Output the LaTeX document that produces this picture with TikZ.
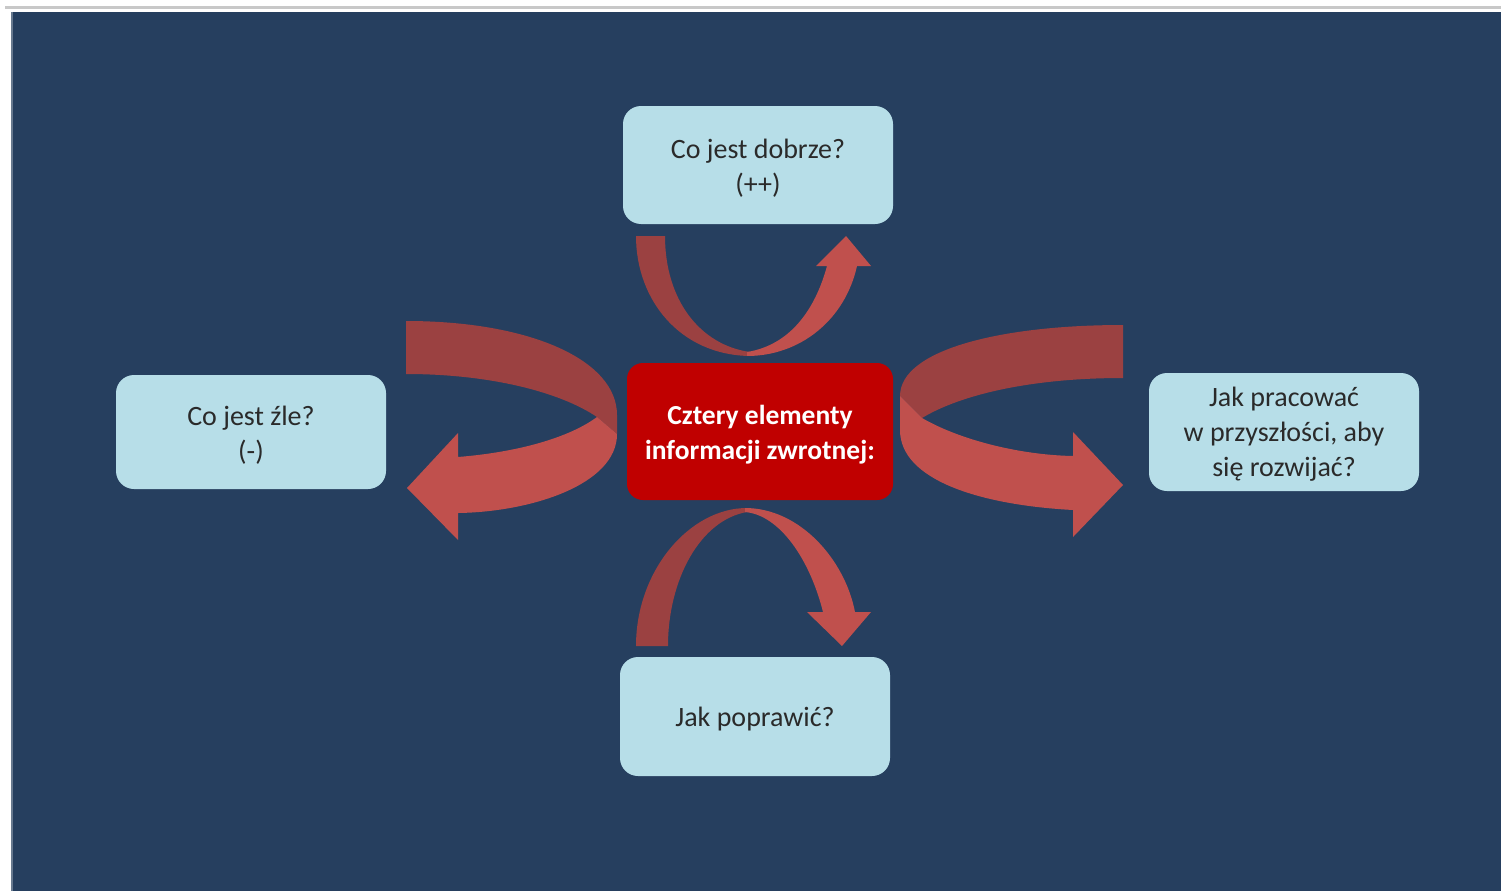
\documentclass[tikz,border=0pt]{standalone}
\usepackage{fontspec}
\setmainfont{Carlito}
\definecolor{navy}{HTML}{263F5F}
\definecolor{boxblue}{HTML}{B7DEE8}
\definecolor{centerred}{HTML}{C00000}
\definecolor{ribdark}{HTML}{9B4141}
\definecolor{riblight}{HTML}{C0504D}
\definecolor{boxtext}{HTML}{2A2A2A}
\definecolor{topline}{HTML}{C8C8C8}
\tikzset{
  infobox/.style={draw=none, fill=boxblue, rounded corners=18pt, minimum width=270pt, inner sep=0pt},
  infotext/.style={align=center, text=boxtext, font=\fontsize{28}{35}\selectfont, inner sep=0pt},
  centerbox/.style={draw=none, fill=centerred, rounded corners=16pt, minimum width=266pt,
    minimum height=137pt, inner sep=0pt},
  centertext/.style={align=center, text=white, font=\fontsize{27.5}{35}\selectfont\bfseries, inner sep=0pt},
  darkrib/.style={fill=ribdark, draw=none},
  lightrib/.style={fill=riblight, draw=none}
}
\begin{document}
\begin{tikzpicture}[x=1pt,y=-1pt]
\useasboundingbox (0,0) rectangle (1501,891);
\fill[white] (0,0) rectangle (1501,891);
\fill[topline] (5,6.5) rectangle (1501,9.5);
\fill[navy] (12,12) rectangle (1501,891);
\fill[navy!70!white] (11,12) rectangle (13,891);

% boxes
\node[infobox, minimum height=118pt] (top) at (758,165) {};
\node[infobox, minimum height=114pt] (left) at (251,432) {};
\node[infobox, minimum height=118pt] (right) at (1284,432) {};
\node[infobox, minimum height=119pt] (bottom) at (755,716.5) {};
\node[centerbox] (center) at (760,431.5) {};

% texts
\node[infotext] (toptext) at ([yshift=-3pt]top.center) {Co jest dobrze?\\(++)};
\node[infotext] (lefttext) at ([yshift=-3pt]left.center) {Co jest źle?\\(-)};
\node[infotext] (righttext) at ([yshift=-2pt]right.center) {Jak pracować\\w przyszłości, aby\\się rozwijać?};
\node[infotext] (bottomtext) at ([yshift=-3pt]bottom.center) {Jak poprawić?};
\node[centertext] (centertxt) at ([yshift=-3pt]center.center) {Cztery elementy\\informacji zwrotnej:};

% top ribbon arrow
\fill[darkrib] (636,236) .. controls (636,300) and (680,355) .. (750,356)
  -- (750,352) .. controls (700,345) and (665,300) .. (665,236) -- cycle;
\fill[lightrib] (747,356) .. controls (800,356) and (845,320) .. (857,266)
  -- (871,266) -- (846,236) -- (816,266) -- (827,266)
  .. controls (815,310) and (790,345) .. (747,352) -- cycle;

% bottom ribbon arrow
\fill[darkrib] (636,646) .. controls (636,570) and (690,508) .. (747,508)
  -- (747,512) .. controls (700,520) and (668,580) .. (668,646) -- cycle;
\fill[lightrib] (745,508) .. controls (800,508) and (845,560) .. (855,612)
  -- (871,612) -- (842,646) -- (807,612) -- (823,612)
  .. controls (810,560) and (780,515) .. (745,512) -- cycle;

% left ribbon arrow
\fill[darkrib] (406,321) .. controls (530,321) and (617,360) .. (617,415)
  -- (617,434) -- (597,417) .. controls (560,392) and (490,374) .. (406,374) -- cycle;
\fill[lightrib] (597,417) -- (617,434) .. controls (617,485) and (530,512) .. (458,513)
  -- (458,540) -- (407,488) -- (458,433) -- (458,457)
  .. controls (520,452) and (570,437) .. (597,417) -- cycle;

% right ribbon arrow
\fill[darkrib] (1123,325) -- (1123,378) .. controls (1030,378) and (960,395) .. (922,418)
  -- (900,396) .. controls (900,350) and (1000,325) .. (1123,325) -- cycle;
\fill[lightrib] (900,396) -- (922,418) .. controls (960,440) and (1020,455) .. (1073,456)
  -- (1073,432) -- (1123,485) -- (1073,537) -- (1073,510)
  .. controls (980,505) and (900,480) .. (900,430) -- cycle;
\end{tikzpicture}
\end{document}
